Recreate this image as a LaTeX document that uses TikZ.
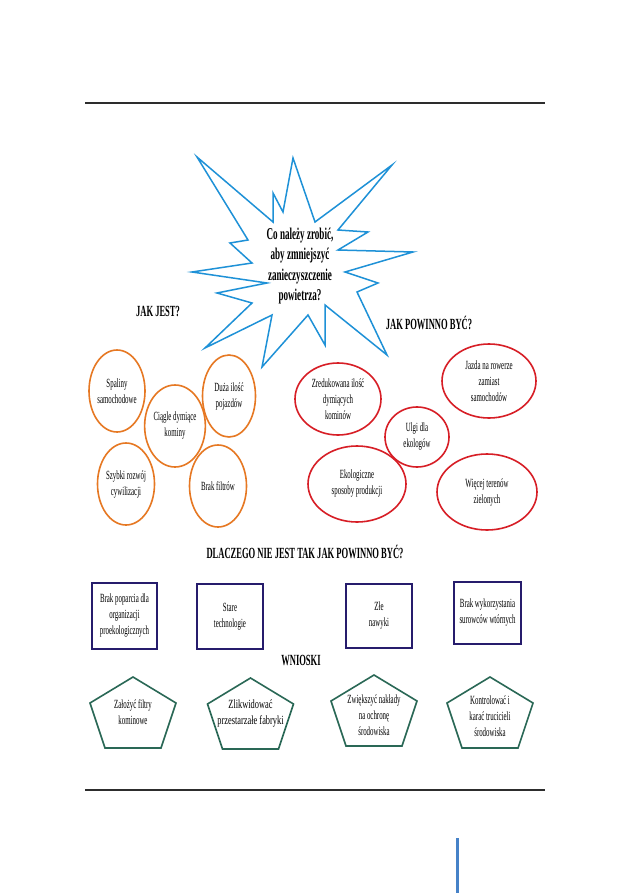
\documentclass[tikz,border=0pt]{standalone}
\usepackage{fontspec}
\setmainfont{Liberation Serif}[FakeStretch=0.55]
\usetikzlibrary{shapes.geometric,calc}
\definecolor{starblue}{RGB}{30,145,215}
\definecolor{orng}{RGB}{230,120,35}
\definecolor{redc}{RGB}{215,30,38}
\definecolor{navy}{RGB}{38,28,108}
\definecolor{teal}{RGB}{42,104,86}
\definecolor{rulegray}{RGB}{45,45,45}
\definecolor{pageblue}{RGB}{70,130,200}
\tikzset{
  txt/.style={align=center, font=\fontsize{12.5}{16}\selectfont, inner sep=0pt},
  head/.style={font=\fontsize{15.5}{18}\selectfont\bfseries, inner sep=0pt},
  oell/.style={txt, ellipse, draw=orng, line width=1.6pt},
  rell/.style={txt, ellipse, draw=redc, line width=1.6pt},
  sqbox/.style={txt, rectangle, draw=navy, line width=1.8pt},
  pentline/.style={draw=teal, line width=1.6pt, line join=miter},
  pent/.pic={\path[pentline] (0,-36) -- (43,-10) -- (28,35) -- (-28,35) -- (-43,-10) -- cycle;},
  rulestyle/.style={draw=rulegray, line width=1.6pt}
}
\begin{document}
\begin{tikzpicture}[x=1pt,y=-1pt]
\useasboundingbox[fill=white] (0,0) rectangle (630,893);

% rules
\path[rulestyle] (85,103) -- (545,103);
\path[rulestyle] (85,790) -- (545,790);
\draw[pageblue, line width=3pt] (457,838) -- (457,893);

% star
\draw[starblue, line width=1.5pt, line join=miter]
 (197,157) -- (273,222) -- (273,193) -- (283,212) -- (293,158) -- (315,222)
 -- (392,165) -- (338,230) -- (368,232) -- (338,250) -- (413,252) -- (345,272)
 -- (378,283) -- (357,292) -- (387,355) -- (325,305) -- (325,345) -- (308,315)
 -- (262,367) -- (272,315) -- (205,348) -- (252,303) -- (217,293) -- (267,283)
 -- (192,272) -- (252,263) -- (230,243) -- (248,240) -- cycle;
\node[align=center, inner sep=0pt, font=\fontsize{16.5}{20.5}\selectfont\bfseries] (q) at (300,266)
 {Co należy zrobić,\\aby zmniejszyć\\zanieczyszczenie\\powietrza?};

% headings
\node[head] (h1) at (158,311) {JAK JEST?};
\node[head] (h2) at (429,323) {JAK POWINNO BYĆ?};
\node[head] (h3) at (305,552) {DLACZEGO NIE JEST TAK JAK POWINNO BYĆ?};
\node[head] (h4) at (301,660) {WNIOSKI};

% orange
\node[oell, minimum width=56pt, minimum height=82pt] (o1) at (117,391) {Spaliny\\samochodowe};
\node[oell, minimum width=54pt, minimum height=82pt] (o2) at (175,426) {Ciągle dymiące\\kominy};
\node[oell, minimum width=53pt, minimum height=82pt] (o3) at (229,396) {Duża ilość\\pojazdów};
\node[oell, minimum width=57pt, minimum height=82pt] (o4) at (126,484) {Szybki rozwój\\cywilizacji};
\node[oell, minimum width=57pt, minimum height=82pt] (o5) at (218,486) {Brak filtrów};

% red
\node[rell, minimum width=86pt, minimum height=72pt] (r1) at (338,399) {Zredukowana ilość\\dymiących\\kominów};
\node[rell, minimum width=94pt, minimum height=74pt] (r2) at (489,381) {Jazda na rowerze\\zamiast\\samochodów};
\node[rell, minimum width=64pt, minimum height=60pt] (r3) at (417,437) {Ulgi dla\\ekologów};
\node[rell, minimum width=98pt, minimum height=76pt] (r4) at (357,484) {Ekologiczne\\sposoby produkcji};
\node[rell, minimum width=100pt, minimum height=76pt] (r5) at (487,492) {Więcej terenów\\zielonych};

% boxes
\node[sqbox, minimum width=65pt, minimum height=66pt] (b1) at (124.5,616) {Brak poparcia dla\\organizacji\\proekologicznych};
\node[sqbox, minimum width=66pt, minimum height=65pt] (b2) at (230,616.5) {Stare\\technologie};
\node[sqbox, minimum width=66pt, minimum height=64pt] (b3) at (379,616) {Złe\\nawyki};
\node[sqbox, minimum width=67pt, minimum height=62pt] (b4) at (487.5,613) {Brak wykorzystania\\surowców wtórnych};

% pentagons
\pic at (133,713) {pent};
\node[txt] (p1) at (133,712) {Założyć filtry\\kominowe};
\pic at (250.5,714) {pent};
\node[txt] (p2) at (250.5,713) {\scalebox{1.22}[1]{Zlikwidować}\\\scalebox{1.22}[1]{przestarzałe fabryki}};
\pic at (374,711) {pent};
\node[txt] (p3) at (374,715) {Zwiększyć nakłady\\na ochronę\\środowiska};
\pic at (490,713) {pent};
\node[txt] (p4) at (490,716) {Kontrolować i\\karać trucicieli\\środowiska};
\end{tikzpicture}
\end{document}
